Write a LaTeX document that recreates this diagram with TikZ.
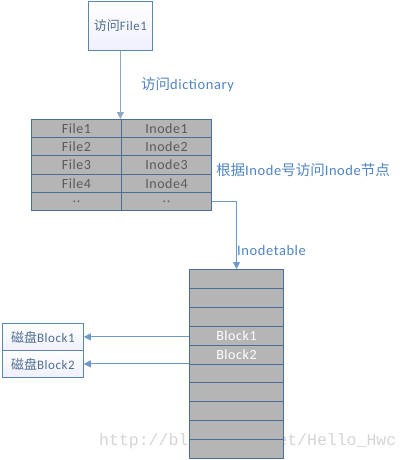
\documentclass[tikz,border=0pt]{standalone}
\usepackage{fontspec}
\setmainfont{Carlito}[LetterSpace=4]
\newfontfamily\cjk{Noto Sans CJK SC}
\newfontfamily\wmfont{Liberation Mono}
\usetikzlibrary{arrows.meta}
\definecolor{lineblue}{HTML}{6D9ACB}
\definecolor{labelblue}{HTML}{4F84C0}
\definecolor{tblborder}{HTML}{4A6F96}
\definecolor{cellgray}{HTML}{B5B5B5}
\definecolor{celltext}{HTML}{5A5A5A}
\definecolor{boxborder}{HTML}{5B86B0}
\definecolor{boxtext}{HTML}{4F6F8F}
\begin{document}
\begin{tikzpicture}[x=1pt,y=-1pt,
  cell/.style={draw=tblborder, fill=cellgray, line width=1pt, inner sep=0pt,
    anchor=north west, font=\fontsize{14}{14}\selectfont, text=celltext},
  fcell/.style={cell, minimum width=90pt, minimum height=18.2pt},
  icell/.style={cell, minimum width=94pt, minimum height=18.9pt, text=white},
  lightbox/.style={draw=boxborder, line width=0.8pt, top color=white, bottom color=blue!6,
    inner sep=0pt, anchor=north west, text=boxtext, font=\fontsize{13}{13}\selectfont},
  conn/.style={draw=lineblue, line width=0.9pt, -{Triangle[length=7pt,width=7pt]}},
  lbl/.style={anchor=west, inner sep=0pt, text=labelblue, font=\fontsize{14.5}{15}\selectfont}]
\useasboundingbox (0,0) rectangle (411,460);
% watermark
\node[anchor=west, inner sep=0pt, text=black!17, font=\wmfont\fontsize{16.5}{17}\selectfont] (wm) at (99,441) {http://blog.csdn.net/Hello\_Hwc};
% top box
\node[lightbox, minimum width=64pt, minimum height=49pt] (top) at (88,1) {{\cjk 访问}File1};
% file table
\foreach \a/\b [count=\i] in {File1/Inode1, File2/Inode2, File3/Inode3, File4/Inode4, ../..} {
  \node[fcell] (fa\i) at (31, {119+(\i-1)*18.2}) {\a};
  \node[fcell] (fb\i) at (121, {119+(\i-1)*18.2}) {\b};
}
% inode table
\foreach \t [count=\i] in {{},{},{},Block1,Block2,{},{},{},{},{}} {
  \node[icell] (b\i) at (189, {269+(\i-1)*18.9}) {\t};
}
% disk boxes
\node[lightbox, minimum width=81pt, minimum height=27pt] (d1) at (2,323) {{\cjk 磁盘}Block1};
\node[lightbox, minimum width=81pt, minimum height=27pt] (d2) at (2,350) {{\cjk 磁盘}Block2};
% connectors
\draw[conn, draw=lineblue!70!gray!80] (top.south) -- (top.south |- fa1.north);
\draw[conn] (fb5.east) -| (b1.north);
\draw[conn] (d1.east -| b4.west) -- (d1.east);
\draw[conn] (d2.east -| b5.west) -- (d2.east);
% labels
\node[lbl] (l1) at (141,85) {{\cjk 访问}dictionary};
\node[lbl] (l2) at (216,170) {{\cjk 根据}Inode{\cjk 号访问}Inode{\cjk 节点}};
\node[lbl] (l3) at (237,251) {Inodetable};
\end{tikzpicture}
\end{document}
